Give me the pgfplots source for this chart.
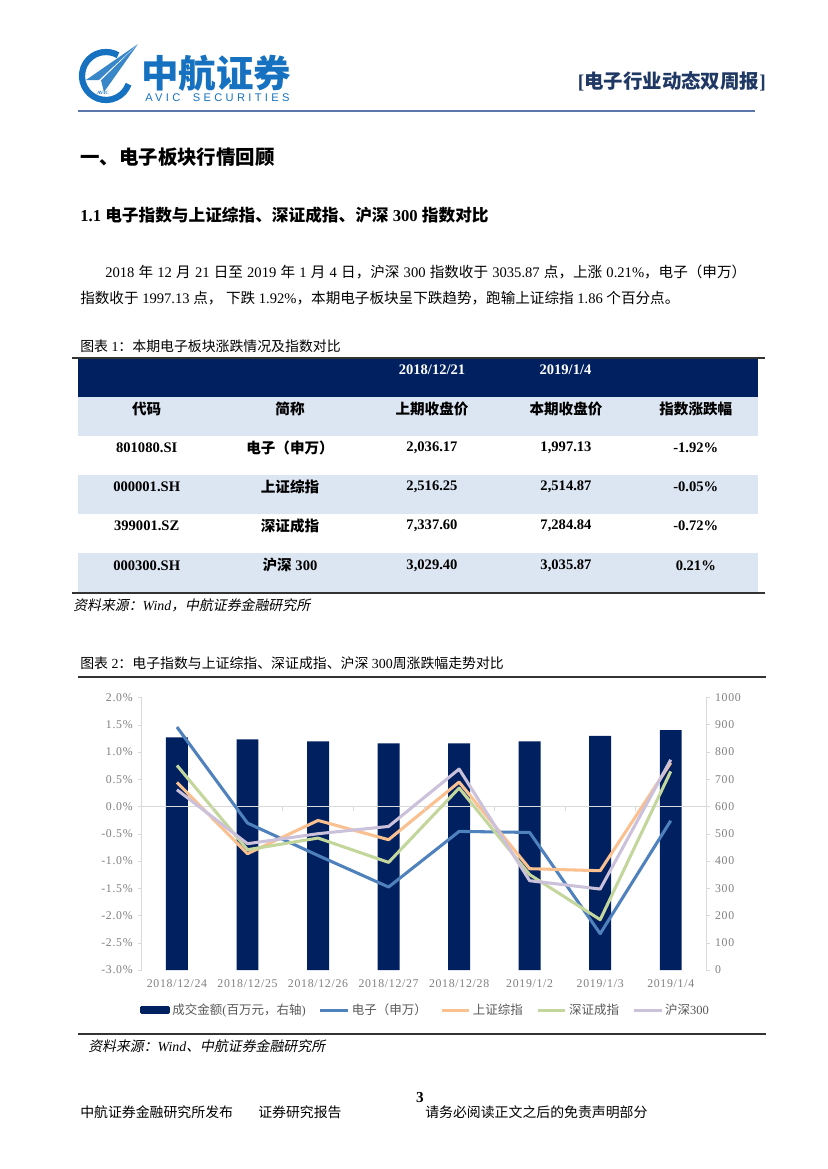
\documentclass[border=0pt]{standalone}
\usepackage{fontspec}
\usepackage{pgfplots}
\pgfplotsset{compat=1.18}
\setmainfont{Liberation Serif}
\newfontfamily\cjkr{Noto Sans CJK SC}
\newfontfamily\cjki{Noto Sans CJK SC}[FakeSlant=0.2]
\newfontfamily\tickfont{Liberation Serif}[LetterSpace=6]
\newfontfamily\avicfont{Liberation Sans}[LetterSpace=30]
\def\cjkfont{\cjkr}
\XeTeXinterchartokenstate=1
\newXeTeXintercharclass\CJKcls
\newcount\cc
\def\setrange#1#2{\cc=#1 \loop\XeTeXcharclass\cc=\CJKcls \ifnum\cc<#2 \advance\cc by 1 \repeat}
\setrange{"3000}{"303F}
\setrange{"4E00}{"9FFF}
\setrange{"FF00}{"FFEF}
\XeTeXinterchartoks 0 \CJKcls = {\begingroup\cjkfont}
\XeTeXinterchartoks \CJKcls 0 = {\endgroup}
\XeTeXinterchartoks 4095 \CJKcls = {\begingroup\cjkfont}
\XeTeXinterchartoks \CJKcls 4095 = {\endgroup}

\definecolor{navy}{HTML}{002060}
\definecolor{tblblue}{HTML}{DCE6F2}
\definecolor{elec}{HTML}{4F81BD}
\definecolor{shz}{HTML}{FAC090}
\definecolor{szc}{HTML}{C3D69B}
\definecolor{hs}{HTML}{CCC1DA}
\definecolor{axgray}{HTML}{D9D9D9}
\definecolor{tgray}{HTML}{7F7F7F}
\definecolor{lgray}{HTML}{595959}
\definecolor{logoblue}{HTML}{1672C0}
\definecolor{hdrblue}{HTML}{1F3864}
\definecolor{hdrline}{HTML}{5A78AC}

\newcommand{\fs}[1]{\fontsize{#1}{#1}\selectfont}

\begin{document}
\begin{tikzpicture}
\path[use as bounding box, fill=white] (0,0) rectangle (595.44pt,-841.68pt);
\begin{scope}[x=0.72pt,y=-0.72pt]
% ---------- header ----------
\draw[logoblue, line width=4.5] (106,76) ++(20:24) arc[start angle=20, end angle=300, radius=24];
\fill[logoblue!85] (86,80) -- (138,44) -- (104,92) -- (101,80) -- cycle;
\fill[white] (101,80) -- (138,44) -- (97,82) -- cycle;
\node[inner sep=0, logoblue] at (103,93) {\fontsize{3.5}{4}\selectfont\bfseries AVIC};
\node[anchor=west, inner sep=0, logoblue] at (141,73) {\fs{27}\bfseries 中航证券};
\node[anchor=west, inner sep=0, logoblue] at (145,98) {\avicfont\fs{8}AVIC\hspace{9pt}SECURITIES};
\node[anchor=east, inner sep=0, hdrblue] at (766,81) {\fs{14}\bfseries [电子行业动态双周报]};
\draw[hdrline, line width=1.8] (78,111) -- (755,111);
% ---------- headings ----------
\node[anchor=west, inner sep=0] at (80,157) {\fs{14}\bfseries 一、电子板块行情回顾};
\node[anchor=west, inner sep=0] at (80,215) {\fs{12}\bfseries 1.1 电子指数与上证综指、深证成指、沪深 300 指数对比};
\node[anchor=west, inner sep=0] at (105,272) {\fs{10.5}\makebox[461.5pt][s]{2018 年 12 月 21 日至 2019 年 1 月 4 日，沪深 300 指数收于 3035.87 点，上涨 0.21\%，电子（申万）}};
\node[anchor=west, inner sep=0] at (80,298) {\fs{10.5}指数收于 1997.13 点， 下跌 1.92\%，本期电子板块呈下跌趋势，跑输上证综指 1.86 个百分点。};
% ---------- table ----------
\node[anchor=west, inner sep=0] at (80,346) {\fs{10}图表 1：本期电子板块涨跌情况及指数对比};
\fill[navy] (78.3,358) rectangle (758.3,396.7);
\fill[tblblue] (78.3,396.7) rectangle (758.3,436);
\fill[tblblue] (78.3,475) rectangle (758.3,514);
\fill[tblblue] (78.3,553) rectangle (758.3,592.7);
\draw[black!80, line width=1.4] (71.7,358.3) -- (765,358.3);
\draw[black!80, line width=1.4] (71.7,593.3) -- (765,593.3);
\begin{scope}[every node/.style={inner sep=0, font=\fs{10.5}\bfseries}]
\node[white] at (432,369.5) {2018/12/21};
\node[white] at (565.5,369.5) {2019/1/4};
\node at (146.7,408.7) {代码};
\node at (290,408.7) {简称};
\node at (432,408.7) {上期收盘价};
\node at (566,408.7) {本期收盘价};
\node at (695.8,408.7) {指数涨跌幅};
\node at (146.7,447.7) {801080.SI};
\node at (290,447.7) {电子（申万）};
\node at (432,447.7) {2,036.17};
\node at (566,447.7) {1,997.13};
\node at (695.8,447.7) {-1.92\%};
\node at (146.7,486.7) {000001.SH};
\node at (290,486.7) {上证综指};
\node at (432,486.7) {2,516.25};
\node at (566,486.7) {2,514.87};
\node at (695.8,486.7) {-0.05\%};
\node at (146.7,526) {399001.SZ};
\node at (290,526) {深证成指};
\node at (432,526) {7,337.60};
\node at (566,526) {7,284.84};
\node at (695.8,526) {-0.72\%};
\node at (146.7,565.3) {000300.SH};
\node at (290,565.3) {沪深 300};
\node at (432,565.3) {3,029.40};
\node at (566,565.3) {3,035.87};
\node at (695.8,565.3) {0.21\%};
\end{scope}
\node[anchor=west, inner sep=0] at (73,605) {\fs{10}\def\cjkfont{\cjki}\itshape 资料来源：Wind，中航证券金融研究所};
% ---------- chart caption ----------
\node[anchor=west, inner sep=0] at (80,663) {\fs{10}图表 2：电子指数与上证综指、深证成指、沪深 300周涨跌幅走势对比};
\draw[black!80, line width=1.2] (78,677) -- (766,677);
\draw[black!80, line width=1.2] (78,1034) -- (766,1034);
\node[anchor=west, inner sep=0] at (88,1046) {\fs{10}\def\cjkfont{\cjki}\itshape 资料来源：Wind、中航证券金融研究所};
% ---------- footer ----------
\node[inner sep=0] at (420,1097) {\fs{11}\bfseries 3};
\node[anchor=west, inner sep=0] at (80,1112) {\fs{10}中航证券金融研究所发布};
\node[anchor=west, inner sep=0] at (258,1112) {\fs{10}证券研究报告};
\node[anchor=west, inner sep=0] at (425,1112) {\fs{10}请务必阅读正文之后的免责声明部分};
\end{scope}

% ---------- chart: bars on right axis ----------
\begin{axis}[
  at={(102.02pt,-698.4pt)}, anchor=south west,
  width=406.3pt, height=196.3pt, scale only axis,
  xmin=-0.5, xmax=7.5, ymin=0, ymax=1000,
  axis y line*=right, axis x line*=bottom,
  x axis line style={draw=none},
  y axis line style={draw=axgray},
  ytick={0,100,200,300,400,500,600,700,800,900,1000},
  yticklabels={0,100,200,300,400,500,600,700,800,900,1000},
  ytick style={draw=axgray},
  tick align=outside, major tick length=3pt,
  xtick={0,1,2,3,4,5,6,7}, xtick style={draw=none},
  xticklabels={2018/12/24,2018/12/25,2018/12/26,2018/12/27,2018/12/28,2019/1/2,2019/1/3,2019/1/4},
  ticklabel style={font=\tickfont\fs{8.5}, text=tgray},
  xticklabel style={yshift=-0.5pt},
]
\addplot[ybar, bar width=15.8pt, fill=navy, draw=none] coordinates {
 (0,853) (1,846) (2,839) (3,831) (4,831) (5,839) (6,859) (7,880)};
\end{axis}

% ---------- chart: lines on left axis ----------
\begin{axis}[
  at={(102.02pt,-698.4pt)}, anchor=south west,
  width=406.3pt, height=196.3pt, scale only axis,
  xmin=-0.5, xmax=7.5, ymin=-3, ymax=2,
  axis y line*=left, axis x line=none,
  y axis line style={draw=axgray},
  ytick={-3,-2.5,-2,-1.5,-1,-0.5,0,0.5,1,1.5,2},
  yticklabels={-3.0\%,-2.5\%,-2.0\%,-1.5\%,-1.0\%,-0.5\%,0.0\%,0.5\%,1.0\%,1.5\%,2.0\%},
  ytick style={draw=axgray},
  tick align=outside, major tick length=3pt,
  extra y ticks={0}, extra y tick labels={},
  extra y tick style={grid=major, major grid style={draw=axgray, line width=0.9pt}, major tick length=0pt},
  ticklabel style={font=\tickfont\fs{8.5}, text=tgray},
  every axis plot/.append style={line width=2.2pt, line join=round, mark=none},
  legend columns=5,
  legend style={at={(-0.003,-0.147)}, anchor=west, draw=none, fill=none,
    font=\fs{9}, text=lgray, inner sep=0pt,
    nodes={inner xsep=1.5pt, inner ysep=1pt},
    /tikz/every even column/.append style={column sep=8pt}},
  legend image code/.code={\draw[#1] (0pt,0pt) -- (20pt,0pt);},
]
\addlegendimage{legend image code/.code={\fill[navy] (0pt,-1.9pt) rectangle (19.4pt,1.9pt);}}
\addlegendentry{成交金额(百万元，右轴)}
\addplot[elec] coordinates {(0,1.456) (1,-0.305) (2,-0.90) (3,-1.478) (4,-0.458) (5,-0.477) (6,-2.334) (7,-0.262)};
\addlegendentry{电子（申万）}
\addplot[shz] coordinates {(0,0.44) (1,-0.867) (2,-0.257) (3,-0.61) (4,0.447) (5,-1.142) (6,-1.179) (7,0.80)};
\addlegendentry{上证综指}
\addplot[szc] coordinates {(0,0.752) (1,-0.794) (2,-0.58) (3,-1.026) (4,0.337) (5,-1.25) (6,-2.077) (7,0.642)};
\addlegendentry{深证成指}
\addplot[hs] coordinates {(0,0.306) (1,-0.684) (2,-0.50) (3,-0.367) (4,0.685) (5,-1.362) (6,-1.515) (7,0.856)};
\addlegendentry{沪深300}
\pgfplotsinvokeforeach{0.5,1.5,2.5,3.5,4.5,5.5,6.5}{\draw[axgray] (axis cs:#1,0) -- ([yshift=-3pt]axis cs:#1,0);}
\end{axis}
\end{tikzpicture}
\end{document}
